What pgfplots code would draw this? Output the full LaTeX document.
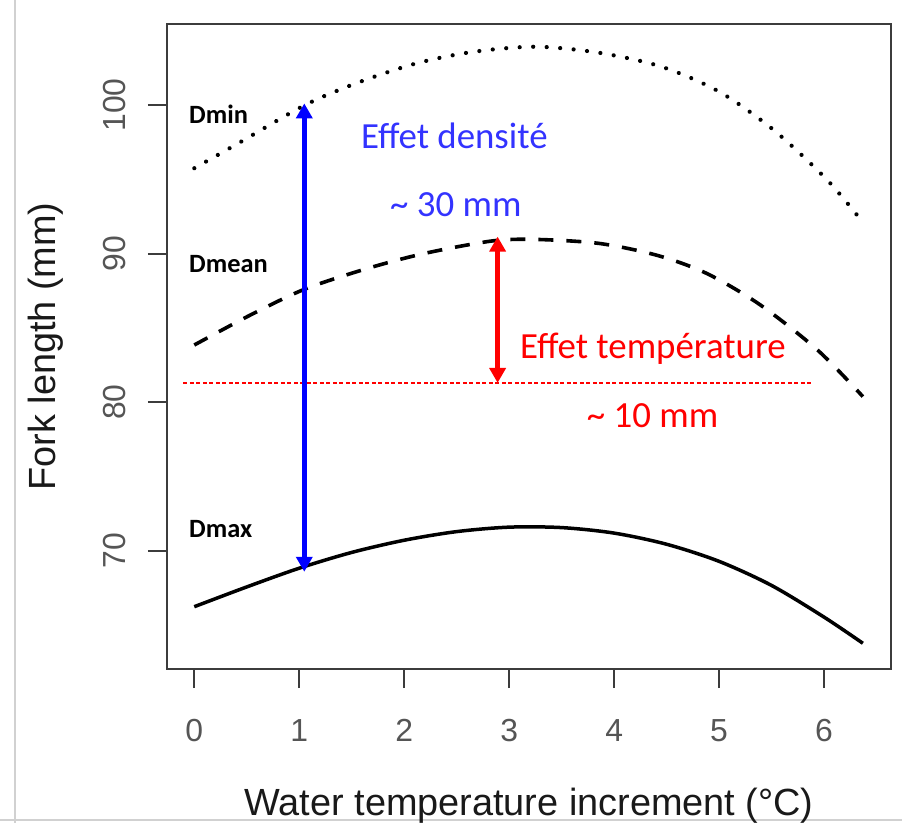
\documentclass[border=0pt]{standalone}
\usepackage{fontspec}
\setmainfont{Liberation Sans}
\newfontfamily\calibri{Carlito}
\usepackage{pgfplots}
\pgfplotsset{compat=1.18}
\usetikzlibrary{arrows.meta}
\definecolor{boxgray}{HTML}{3C3C3C}
\definecolor{ticktext}{HTML}{555555}
\definecolor{txtblue}{RGB}{51,51,255}
\begin{document}
\begin{tikzpicture}
\useasboundingbox (0,0) rectangle (902bp,823bp);
\draw[black!18, line width=1.5bp] (15bp,0) -- (15bp,823bp);
\draw[black!18, line width=1.5bp] (0,3bp) -- (902bp,3bp);
\begin{axis}[
  at={(167bp,154bp)}, anchor=south west,
  scale only axis, width=724bp, height=645bp,
  xmin=-0.26, xmax=6.638, ymin=62.06, ymax=105.44,
  axis line style={boxgray, line width=2bp},
  xtick={0,1,2,3,4,5,6}, ytick={70,80,90,100},
  tick pos=left, tick align=outside,
  major tick length=19bp,
  every tick/.style={boxgray, line width=2bp},
  /pgf/number format/assume math mode=true,
  tick label style={font=\fontsize{32}{36}\selectfont, text=ticktext, inner sep=0pt},
  xticklabel style={anchor=north},
  yticklabel style={rotate=90, anchor=south},
  xticklabel shift=31bp,
  yticklabel shift=22bp,
  xlabel={Water temperature increment (°C)},
  ylabel={Fork length (mm)},
  label style={font=\fontsize{38}{44}\selectfont, text=black!90, inner sep=0pt},
  xlabel style={at={(axis description cs:0.5,-0.2264)}, anchor=base},
  ylabel style={at={(axis description cs:-0.1547,0.5)}, anchor=base},
]
% Dmin (dotted)
\addplot[black, line width=4.2bp, line cap=round, dash pattern=on 0.01bp off 13.5bp, smooth] coordinates {
(0,95.74) (0.42,97.42) (1.055,99.99) (1.56,101.5) (2.12,102.8) (2.67,103.58) (3.26,103.91) (3.86,103.5) (4.45,102.57) (5.0,100.89) (5.52,98.31) (6.03,94.95) (6.37,92.1)
};
% Dmean (dashed)
\addplot[black, line width=3.6bp, dash pattern=on 15bp off 13bp, smooth] coordinates {
(0,83.85) (0.53,85.85) (1.05,87.6) (1.65,89.0) (2.20,90.02) (2.84,90.85) (3.26,90.95) (3.86,90.68) (4.41,89.88) (4.88,88.67) (5.39,86.56) (5.94,83.5) (6.37,80.38)
};
% Dmax (solid)
\addplot[black, line width=3.5bp, smooth] coordinates {
(0,66.25) (0.5,67.58) (1.0,68.84) (1.5,69.9) (2.0,70.72) (2.5,71.3) (3.0,71.6) (3.5,71.57) (4.0,71.2) (4.5,70.45) (5.0,69.3) (5.5,67.68) (6.0,65.55) (6.37,63.79)
};
% red dashed reference line
\addplot[red, line width=1.3bp, dash pattern=on 4bp off 2.5bp] coordinates {(-0.104,81.3) (5.88,81.3)};
% blue double arrow (density effect)
\addplot[blue, line width=5bp, arrows={Triangle[length=15bp,width=16bp]-Triangle[length=15bp,width=16bp]}] coordinates {(1.048,68.6) (1.048,100.1)};
% red double arrow (temperature effect)
\addplot[red, line width=5bp, arrows={Triangle[length=15bp,width=16bp]-Triangle[length=15bp,width=16bp]}] coordinates {(2.89,81.3) (2.89,91.14)};
\end{axis}
\begin{scope}[every node/.style={inner sep=0pt, anchor=base west}]
\node[font=\calibri\fontsize{26.5}{30}\bfseries\selectfont] at (189bp,699bp) {Dmin};
\node[font=\calibri\fontsize{26.5}{30}\bfseries\selectfont] at (189bp,550bp) {Dmean};
\node[font=\calibri\fontsize{26.5}{30}\bfseries\selectfont] at (189bp,285bp) {Dmax};
\node[font=\calibri\fontsize{37}{42}\selectfont, text=txtblue] at (361bp,674.7bp) {Effet densité};
\node[font=\calibri\fontsize{37}{42}\selectfont, text=txtblue] at (390bp,606.3bp) {\textasciitilde{} 30 mm};
\node[font=\calibri\fontsize{37}{42}\selectfont, text=red] at (520bp,464.7bp) {Effet température};
\node[font=\calibri\fontsize{37}{42}\selectfont, text=red] at (586.7bp,395.7bp) {\textasciitilde{} 10 mm};
\end{scope}
\end{tikzpicture}
\end{document}
